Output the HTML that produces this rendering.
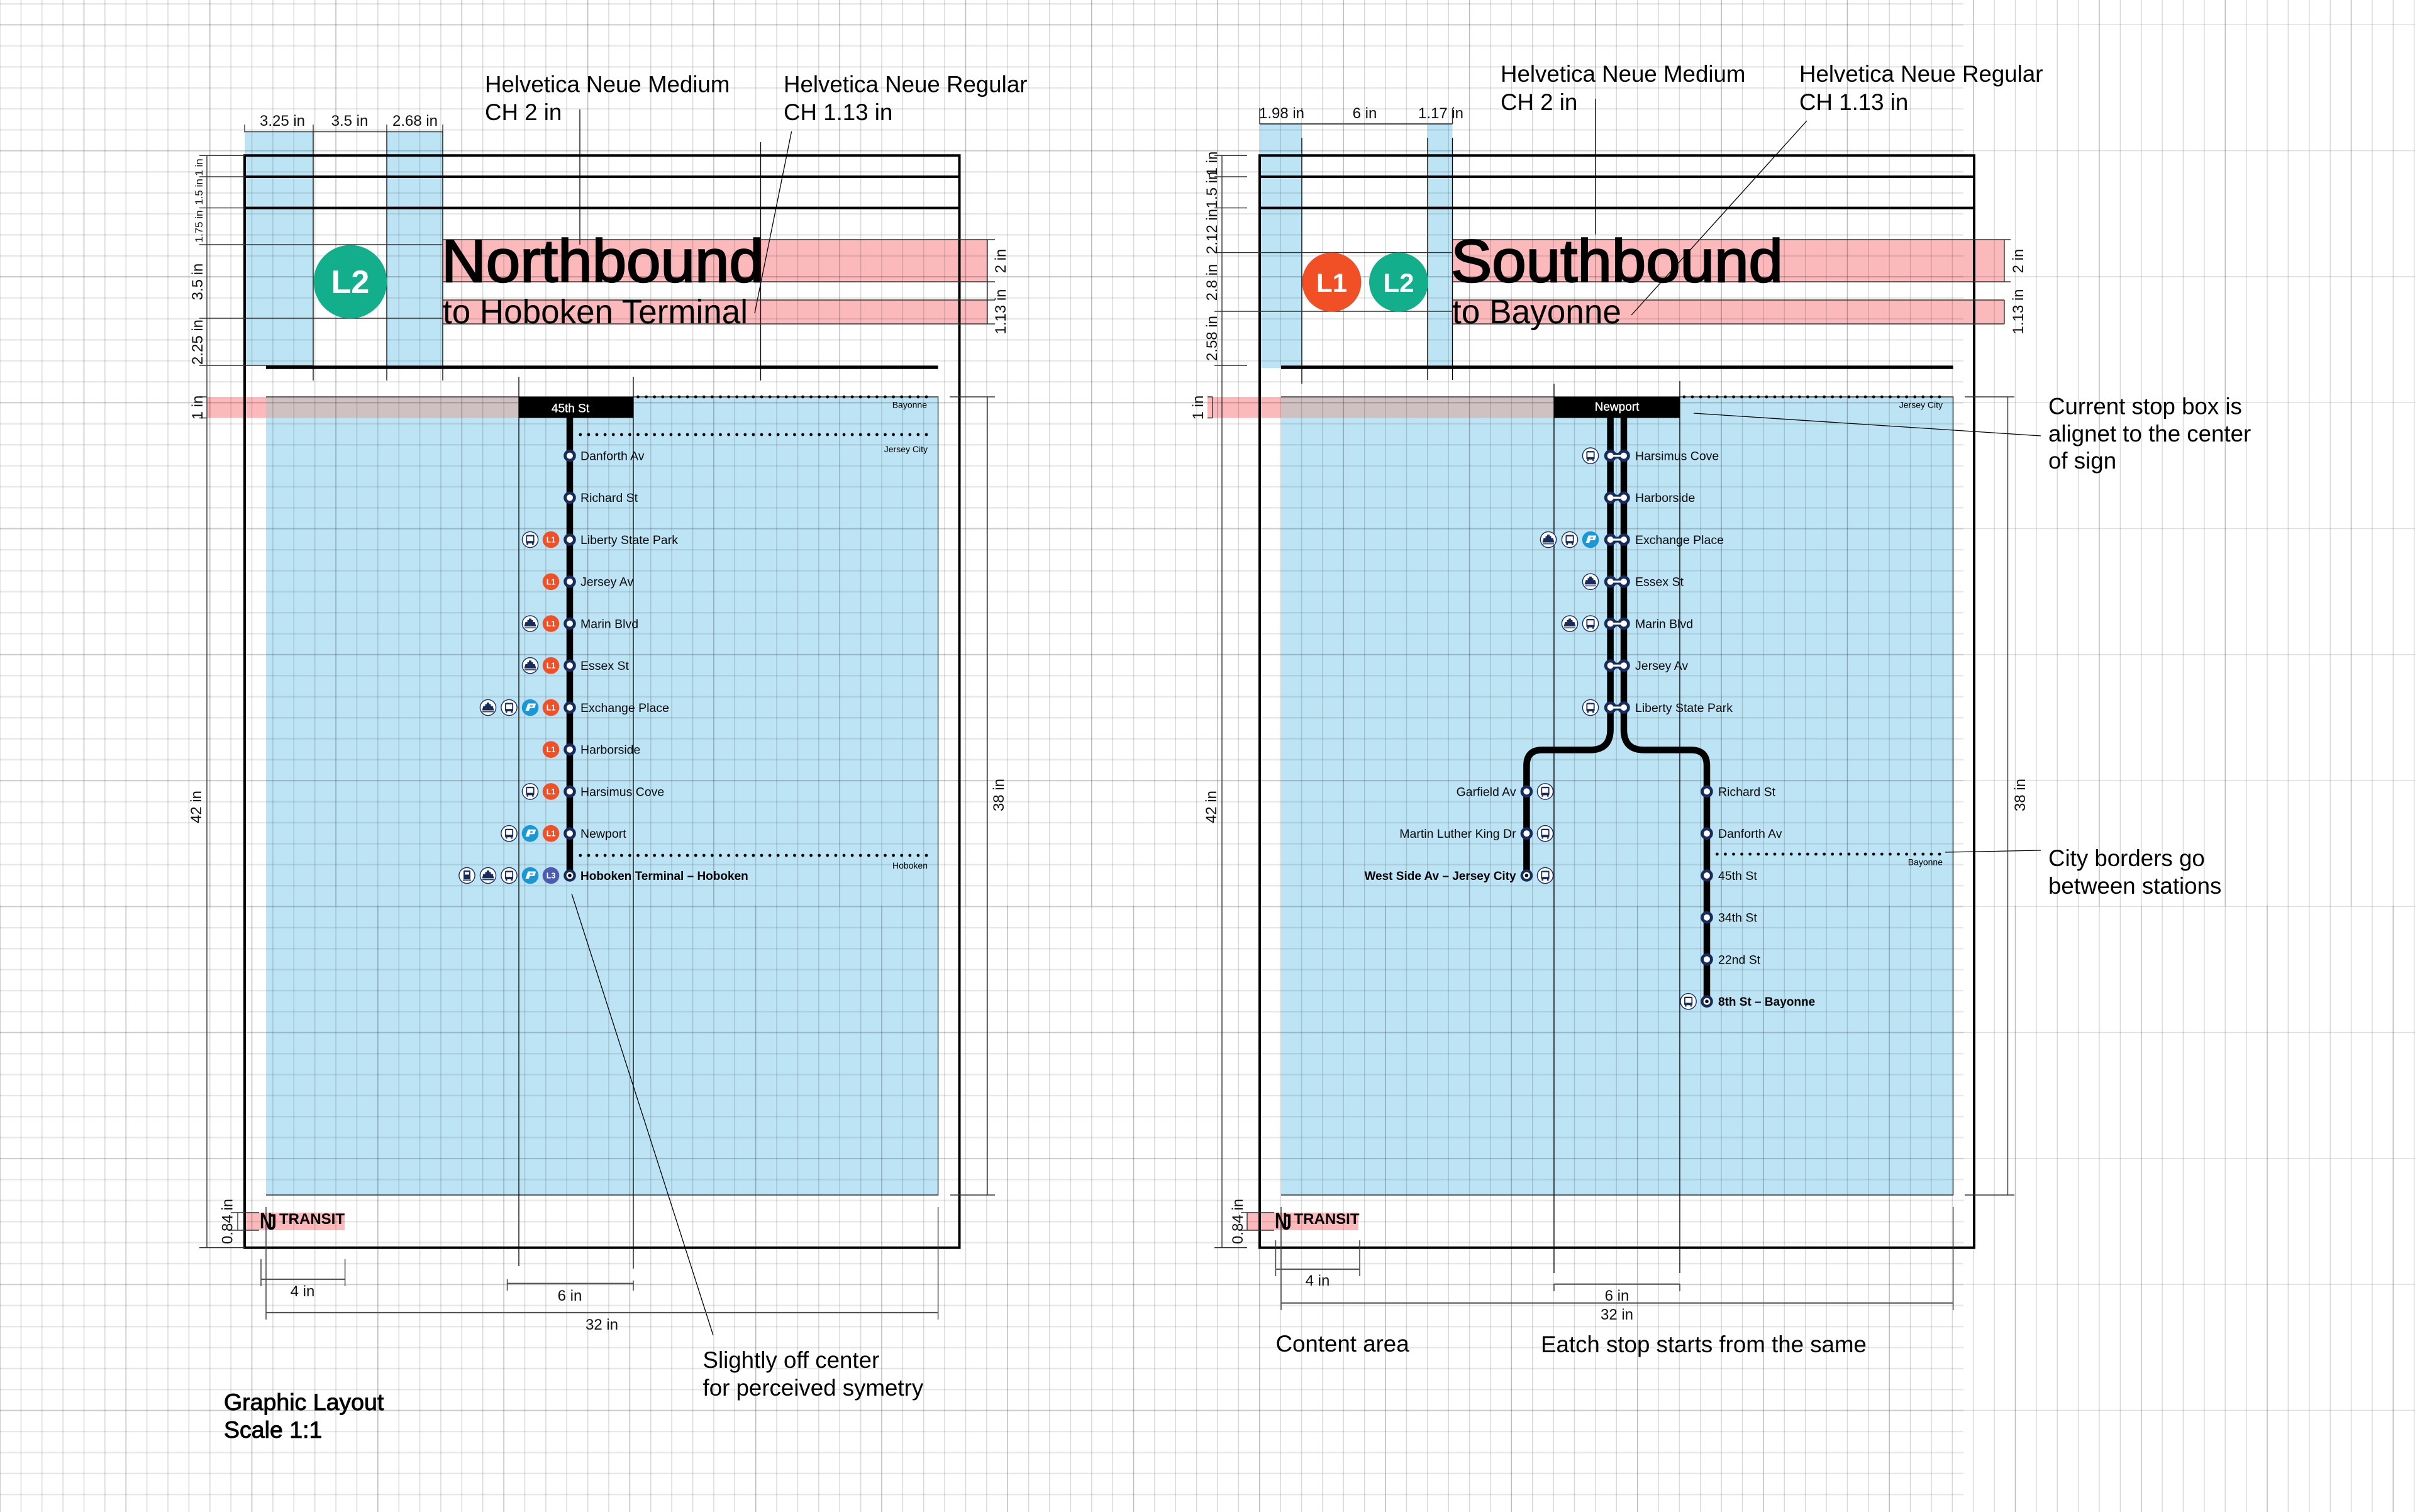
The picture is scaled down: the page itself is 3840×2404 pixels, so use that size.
<!DOCTYPE html>
<html><head><meta charset="utf-8"><title>Graphic Layout</title>
<style>
html,body{margin:0;padding:0;background:#fff}
svg{display:block}
text{font-family:"Liberation Sans",sans-serif;fill:#000}
.d{font-size:24px;fill:#111}
.ds{font-size:17px;fill:#111}
.h{font-size:36.7px}
.m{font-size:37.5px;stroke:#000;stroke-width:.9}
.s{font-size:19.5px;fill:#0b0b0b}
.b{font-size:19px;font-weight:bold}
.c{font-size:14px;text-anchor:end}
.ic{font-size:12.5px;font-weight:bold;fill:#fff;text-anchor:middle;stroke:none}
.l{stroke:#000;stroke-width:1.3;fill:none}
.t{stroke:#333;stroke-width:1.4;fill:none}
.bar{stroke:#555;stroke-width:2.2;fill:none}
.f{stroke:#000;stroke-width:4;fill:none}
.dot{stroke:#000;stroke-width:4.8;stroke-linecap:round;stroke-dasharray:0 13.1;fill:none}
.r{stroke:#000;stroke-width:10.5;fill:none}
.mid{text-anchor:middle}
</style></head><body>
<svg xmlns="http://www.w3.org/2000/svg" width="3840" height="2404" viewBox="0 0 3840 2404">
<defs>
<g id="stop"><circle r="7.4" fill="#fff" stroke="#182c5c" stroke-width="4.8"/></g>
<g id="term"><circle r="9.8" fill="#182c5c"/><circle r="5.4" fill="#fff"/><circle r="2.8" fill="#000"/></g>
<g id="dbl"><rect x="0" y="-4.6" width="21.4" height="9.2" fill="#182c5c"/><circle cx="0" r="7.4" fill="#fff" stroke="#182c5c" stroke-width="4.8"/><circle cx="21.4" r="7.4" fill="#fff" stroke="#182c5c" stroke-width="4.8"/><rect x="0" y="-1.6" width="21.4" height="3.2" fill="#fff"/></g>
<g id="bus"><circle r="12.6" fill="#fff" stroke="#182c5c" stroke-width="1.4"/><rect x="-6.6" y="-7.5" width="13.2" height="13.5" rx="2" fill="#182c5c"/><rect x="-4.8" y="-5.2" width="9.6" height="7.4" fill="#fff"/><rect x="-5.6" y="6" width="2.6" height="2.2" fill="#182c5c"/><rect x="3" y="6" width="2.6" height="2.2" fill="#182c5c"/></g>
<g id="ferry"><circle r="12.6" fill="#fff" stroke="#182c5c" stroke-width="1.4"/><path d="M-2-8h4v2.5h2.5v3H7.5L9.5 4.500-9.500 4.500-7.500-2.500H-4.500v-3H-2z" fill="#182c5c"/><rect x="-9" y="6" width="18" height="1.400" fill="#182c5c"/></g>
<g id="train"><circle r="12.6" fill="#fff" stroke="#182c5c" stroke-width="1.4"/><rect x="-5.500" y="-8" width="11" height="14" rx="1.500" fill="#182c5c"/><rect x="-3.500" y="-5.500" width="7" height="4" fill="#fff"/><rect x="-6.500" y="6.500" width="13" height="1.600" fill="#182c5c"/></g>
<g id="p"><circle r="13.300" fill="#1a98d5"/><path d="M-3.500-6.500H8Q9.500-6.500 8.500-4L7.500-.5Q7 1 5 1H-.5L-2 5H-7.500Z" fill="#fff"/><path d="M0-3.500H4.500L4 -1.500H-.6Z" fill="#1a98d5"/></g>
</defs>

<rect width="3840" height="2404" fill="#fff"/>

<!-- blue fills -->
<g fill="#bde4f5">
<rect x="389" y="209.500" width="109" height="371.500"/>
<rect x="615" y="209.500" width="89" height="371.500"/>
<rect x="423" y="631" width="1068.600" height="1269"/>
<rect x="2003" y="198" width="67" height="387"/>
<rect x="2270" y="198" width="39.500" height="383"/>
<rect x="2037" y="631" width="1068.600" height="1269"/>
</g>
<!-- pink fills -->
<g fill="#fbb9bc">
<rect x="704" y="381" width="866" height="67"/>
<rect x="704" y="477" width="866" height="38"/>
<rect x="329" y="631" width="94" height="33.500"/>
<rect x="390" y="1928" width="158" height="28"/>
<rect x="2309.500" y="381" width="877.500" height="67"/>
<rect x="2309.500" y="477" width="877.500" height="38"/>
<rect x="1920" y="631" width="117" height="33.500"/>
<rect x="1983" y="1928" width="177" height="28"/>
</g>
<g fill="#cfc0c2">
<rect x="423" y="631" width="402" height="33.500"/>
<rect x="2037" y="631" width="434" height="33.500"/>
</g>

<!-- grid -->
<line x1="0" y1="1202" x2="3840" y2="1202" stroke="#000" stroke-opacity=".15" stroke-width="2404" stroke-dasharray="1.500 31.880" stroke-dashoffset=".75"/>
<line x1="1202" y1="5" x2="1202" y2="2404" stroke="#000" stroke-opacity=".09" stroke-width="3840" stroke-dasharray="2.400 30.980"/>
<line x1="132.750" y1="720" x2="3840" y2="720" stroke="#000" stroke-opacity=".13" stroke-width="1440" stroke-dasharray="1.500 198.780"/>
<line x1="0" y1="1922" x2="3840" y2="1922" stroke="#000" stroke-opacity=".13" stroke-width="964" stroke-dasharray="1.500 198.780" stroke-dashoffset=".75"/>
<line x1="1920" y1="38.500" x2="1920" y2="2404" stroke="#000" stroke-opacity=".12" stroke-width="3840" stroke-dasharray="1.600 198.680"/>

<!-- LEFT PANEL -->
<g>
<path class="f" d="M389 247.300H1525.500V1983.700H389Z"/>
<path class="f" d="M389 281H1525.500M389 330.600H1525.500"/>
<path d="M423 584H1491.600" stroke="#000" stroke-width="5.500"/>
<path class="t" d="M423 631H1491.600V1900H423"/>
<path class="t" d="M389 198V209.500H704V198M498 198V209.500M615 198V209.500"/>
<path class="l" d="M498 209.500V605M615 209.500V605M704 209.500V605M1209.500 226V605M825 599V2013M1007 599V2017M922 174V389M1258.600 209L1200 498M909 1421L1134 2123"/>
<path class="t" d="M317 247.300H389M317 281H389M317 330.600H389M317 389H704M317 506H704M317 581H498M329 247.300V1983.700M317 631H329M317 664.500H329M704 381H1582M704 448H1582M704 477H1582M704 515H1582M1570 381V515M1510 631H1582M1511 1900H1582M1570 631V1900M317 1983.700H389"/>
<path class="t" d="M367 1928H412M367 1956H412M378 1928V1956"/>
<path class="t" d="M423 1919V2098M1491.600 1919V2098M415 2002V2045M548.600 2002V2045M806.500 2034V2052M1007 2036V2052"/>
<path class="bar" d="M423 2087H1491.600M415 2034H548.600M806.500 2040.700H1007"/>

<text class="d mid" x="449" y="200">3.25 in</text><text class="d mid" x="556" y="200">3.5 in</text><text class="d mid" x="660" y="200">2.68 in</text>
<text class="h" x="771" y="146.500">Helvetica Neue Medium</text><text class="h" x="771" y="191">CH 2 in</text>
<text class="h" x="1246" y="146.500">Helvetica Neue Regular</text><text class="h" x="1246" y="191">CH 1.13 in</text>
<circle cx="557" cy="448" r="58.400" fill="#13ae8b"/>
<text x="557" y="466" class="mid" font-size="52" font-weight="bold" style="fill:#fff">L2</text>
<text x="702" y="448" font-size="96" textLength="512" lengthAdjust="spacingAndGlyphs" stroke="#000" stroke-width="2.400">Northbound</text>
<text x="704" y="514" font-size="54" textLength="485" lengthAdjust="spacingAndGlyphs">to Hoboken Terminal</text>

<text class="ds mid" transform="translate(322,266) rotate(-90)">1 in</text>
<text class="ds mid" transform="translate(322,305) rotate(-90)">1.5 in</text>
<text class="ds mid" transform="translate(322,360) rotate(-90)">1.75 in</text>
<text class="d mid" transform="translate(322,448) rotate(-90)">3.5 in</text>
<text class="d mid" transform="translate(322,544) rotate(-90)">2.25 in</text>
<text class="d mid" transform="translate(322,648) rotate(-90)">1 in</text>
<text class="d mid" transform="translate(320,1283) rotate(-90)">42 in</text>
<text class="d mid" transform="translate(369.500,1942) rotate(-90)">0.84 in</text>
<text class="d mid" transform="translate(1599,415) rotate(-90)">2 in</text>
<text class="d mid" transform="translate(1599,495.500) rotate(-90)">1.13 in</text>
<text class="d mid" transform="translate(1596,1264) rotate(-90)">38 in</text>

<rect x="825" y="631" width="182" height="33.500" fill="#000"/>
<text x="907" y="655.500" class="mid" font-size="19" style="fill:#fff" stroke="#fff" stroke-width=".3">45th St</text>
<path class="dot" d="M1014.500 631H1474M922.800 691H1474M922.800 1360H1474"/>
<text class="c" x="1474" y="648.500">Bayonne</text>
<text class="c" x="1475" y="719">Jersey City</text>
<text class="c" x="1475" y="1381">Hoboken</text>

<path class="r" d="M906 664V1392"/>
<use href="#stop" x="906" y="724.600"/><use href="#stop" x="906" y="791.300"/><use href="#stop" x="906" y="858"/><use href="#stop" x="906" y="924.800"/><use href="#stop" x="906" y="991.500"/><use href="#stop" x="906" y="1058.200"/><use href="#stop" x="906" y="1125"/><use href="#stop" x="906" y="1191.700"/><use href="#stop" x="906" y="1258.400"/><use href="#stop" x="906" y="1325.200"/><use href="#term" x="906" y="1392"/>
<text class="s" x="923" y="731.500">Danforth Av</text>
<text class="s" x="923" y="798.200">Richard St</text>
<text class="s" x="923" y="864.900">Liberty State Park</text>
<text class="s" x="923" y="931.700">Jersey Av</text>
<text class="s" x="923" y="998.400">Marin Blvd</text>
<text class="s" x="923" y="1065.100">Essex St</text>
<text class="s" x="923" y="1131.900">Exchange Place</text>
<text class="s" x="923" y="1198.600">Harborside</text>
<text class="s" x="923" y="1265.300">Harsimus Cove</text>
<text class="s" x="923" y="1332.100">Newport</text>
<text class="b" x="923" y="1399">Hoboken Terminal – Hoboken</text>

<use href="#bus" x="843" y="858"/><use href="#ferry" x="843" y="991.500"/><use href="#ferry" x="843" y="1058.200"/><use href="#ferry" x="776" y="1125"/><use href="#bus" x="809.500" y="1125"/><use href="#p" x="843" y="1125"/><use href="#bus" x="843" y="1258.400"/><use href="#bus" x="809.500" y="1325.200"/><use href="#p" x="843" y="1325.200"/><use href="#train" x="742.500" y="1392"/><use href="#ferry" x="776" y="1392"/><use href="#bus" x="809.500" y="1392"/><use href="#p" x="843" y="1392"/>
<g>
<circle cx="876" cy="858" r="13.300" fill="#f15027"/><text class="ic" x="876" y="862.500">L1</text>
<circle cx="876" cy="924.800" r="13.300" fill="#f15027"/><text class="ic" x="876" y="929.300">L1</text>
<circle cx="876" cy="991.500" r="13.300" fill="#f15027"/><text class="ic" x="876" y="996">L1</text>
<circle cx="876" cy="1058.200" r="13.300" fill="#f15027"/><text class="ic" x="876" y="1062.700">L1</text>
<circle cx="876" cy="1125" r="13.300" fill="#f15027"/><text class="ic" x="876" y="1129.500">L1</text>
<circle cx="876" cy="1191.700" r="13.300" fill="#f15027"/><text class="ic" x="876" y="1196.200">L1</text>
<circle cx="876" cy="1258.400" r="13.300" fill="#f15027"/><text class="ic" x="876" y="1262.900">L1</text>
<circle cx="876" cy="1325.200" r="13.300" fill="#f15027"/><text class="ic" x="876" y="1329.700">L1</text>
<circle cx="876" cy="1392" r="13.300" fill="#4a5bb0"/><text class="ic" x="876" y="1396.500">L3</text>
</g>

<text x="413" y="1953" font-size="35" font-weight="bold" textLength="20" lengthAdjust="spacingAndGlyphs">N</text>
<text x="424" y="1955" font-size="35" font-weight="bold" textLength="16" lengthAdjust="spacingAndGlyphs">J</text>
<text x="444" y="1946" font-size="24" font-weight="bold" textLength="104" lengthAdjust="spacingAndGlyphs">TRANSIT</text>

<text class="d mid" x="481" y="2061">4 in</text>
<text class="d mid" x="906" y="2068">6 in</text>
<text class="d mid" x="957" y="2114">32 in</text>
<text class="h" x="1117.500" y="2175">Slightly off center</text>
<text class="h" x="1117.500" y="2219">for perceived symetry</text>
<text class="m" x="356" y="2242">Graphic Layout</text>
<text class="m" x="356" y="2286">Scale 1:1</text>
</g>

<!-- RIGHT PANEL -->
<g>
<path class="f" d="M2003 247.300H3139V1983.700H2003Z"/>
<path class="f" d="M2003 281H3139M2003 330.600H3139"/>
<path d="M2037 584H3105.600" stroke="#000" stroke-width="5.500"/>
<path class="t" d="M2037 631H3105.600V1900H2037"/>
<path class="bar" d="M2003 197H2309.500"/>
<path class="t" d="M2003 172V197M2309.500 172V197M2070 172V178"/>
<path class="l" d="M2070 219V610M2270 219V604M2309.500 219V604M2471 610V2024M2671 606V2024M2537 157V372.600M2873 192L2594 501M2693 657L3245 693M3093 1355L3245 1352"/>
<path class="t" d="M1931 247.300H1983M1931 281H1983M1931 330.600H1983M1931 401.600H2309.500M1931 495H2309.500M1931 581H1983M1943 247.300V1983.700M2309.500 381H3197M2309.500 448H3197M2309.500 477H3175M2309.500 515H3175M3187 381V448M3187 477V515M3175 477H3187M3175 515H3187M3124 631H3203M3124 1900H3203M3192.500 631V1900M1920 664.500H1928M1920 631H1928M1928 631V664.500M1931 1983.700H1983"/>
<path class="t" d="M1973 1928H2026M1973 1956H2026M1983 1928V1956"/>
<path class="t" d="M2037 1919V2083M3105.600 1919V2083M2028.500 1972V2029M2162 1972V2029M2471 2041V2053M2671 2041V2053"/>
<path class="bar" d="M2037 2071.700H3105.600M2028.500 2018H2162M2471 2041.700H2671"/>

<text class="d mid" x="2038" y="188">1.98 in</text><text class="d mid" x="2170" y="188">6 in</text><text class="d mid" x="2291" y="188">1.17 in</text>
<text class="h" x="2386" y="130">Helvetica Neue Medium</text><text class="h" x="2386" y="175">CH 2 in</text>
<text class="h" x="2861" y="130">Helvetica Neue Regular</text><text class="h" x="2861" y="175">CH 1.13 in</text>
<circle cx="2117.500" cy="448.600" r="47" fill="#f15027"/>
<text x="2117.500" y="464" class="mid" font-size="42" font-weight="bold" style="fill:#fff">L1</text>
<circle cx="2224" cy="448.600" r="47" fill="#13ae8b"/>
<text x="2224" y="464" class="mid" font-size="42" font-weight="bold" style="fill:#fff">L2</text>
<text x="2307" y="448" font-size="96" textLength="528" lengthAdjust="spacingAndGlyphs" stroke="#000" stroke-width="2.400">Southbound</text>
<text x="2309" y="514" font-size="54" textLength="269" lengthAdjust="spacingAndGlyphs">to Bayonne</text>

<text class="d mid" transform="translate(1935,260) rotate(-90)">1 in</text>
<text class="d mid" transform="translate(1935,302) rotate(-90)">1.5 in</text>
<text class="d mid" transform="translate(1935,368) rotate(-90)">2.12 in</text>
<text class="d mid" transform="translate(1935,449) rotate(-90)">2.8 in</text>
<text class="d mid" transform="translate(1935,538) rotate(-90)">2.58 in</text>
<text class="d mid" transform="translate(1913,648) rotate(-90)">1 in</text>
<text class="d mid" transform="translate(1934,1283) rotate(-90)">42 in</text>
<text class="d mid" transform="translate(1976,1942) rotate(-90)">0.84 in</text>
<text class="d mid" transform="translate(3217,415) rotate(-90)">2 in</text>
<text class="d mid" transform="translate(3217,495.500) rotate(-90)">1.13 in</text>
<text class="d mid" transform="translate(3220,1264) rotate(-90)">38 in</text>

<rect x="2471" y="631" width="200" height="33.500" fill="#000"/>
<text x="2571" y="653" class="mid" font-size="19" style="fill:#fff" stroke="#fff" stroke-width=".3">Newport</text>
<path class="dot" d="M2677.900 631H3085M2730.300 1358H3085"/>
<text class="c" x="3089" y="648.500">Jersey City</text>
<text class="c" x="3089" y="1375.500">Bayonne</text>

<path class="r" d="M2560.600 664V1160Q2560.600 1192.400 2528 1192.400H2452Q2427.400 1192.400 2427.400 1217V1392"/>
<path class="r" d="M2582 664V1160Q2582 1192.400 2614 1192.400H2689Q2714 1192.400 2714 1217V1592"/>
<use href="#dbl" x="2560.600" y="724.600"/><use href="#dbl" x="2560.600" y="791.300"/><use href="#dbl" x="2560.600" y="858"/><use href="#dbl" x="2560.600" y="924.800"/><use href="#dbl" x="2560.600" y="991.500"/><use href="#dbl" x="2560.600" y="1058.200"/><use href="#dbl" x="2560.600" y="1125"/>
<use href="#stop" x="2427.400" y="1258.400"/><use href="#stop" x="2427.400" y="1325.200"/><use href="#term" x="2427.400" y="1392"/>
<use href="#stop" x="2714" y="1258.400"/><use href="#stop" x="2714" y="1325.200"/><use href="#stop" x="2714" y="1392"/><use href="#stop" x="2714" y="1458.700"/><use href="#stop" x="2714" y="1525.400"/><use href="#term" x="2714" y="1592.200"/>

<text class="s" x="2600" y="731.500">Harsimus Cove</text>
<text class="s" x="2600" y="798.200">Harborside</text>
<text class="s" x="2600" y="864.900">Exchange Place</text>
<text class="s" x="2600" y="931.700">Essex St</text>
<text class="s" x="2600" y="998.400">Marin Blvd</text>
<text class="s" x="2600" y="1065.100">Jersey Av</text>
<text class="s" x="2600" y="1131.900">Liberty State Park</text>
<text class="s" x="2732" y="1265.300">Richard St</text>
<text class="s" x="2732" y="1332.100">Danforth Av</text>
<text class="s" x="2732" y="1398.900">45th St</text>
<text class="s" x="2732" y="1465.600">34th St</text>
<text class="s" x="2732" y="1532.300">22nd St</text>
<text class="b" x="2732" y="1599">8th St – Bayonne</text>
<text class="s" x="2410.600" y="1265.300" text-anchor="end">Garfield Av</text>
<text class="s" x="2410.600" y="1332.100" text-anchor="end">Martin Luther King Dr</text>
<text class="b" x="2410.600" y="1399" text-anchor="end">West Side Av – Jersey City</text>

<use href="#bus" x="2529" y="724.600"/><use href="#ferry" x="2462" y="858"/><use href="#bus" x="2496" y="858"/><use href="#p" x="2529" y="858"/><use href="#ferry" x="2529" y="924.800"/><use href="#ferry" x="2496" y="991.500"/><use href="#bus" x="2529" y="991.500"/><use href="#bus" x="2529" y="1125"/>
<use href="#bus" x="2457" y="1258.400"/><use href="#bus" x="2457" y="1325.200"/><use href="#bus" x="2457" y="1392"/><use href="#bus" x="2684.600" y="1592.200"/>

<text x="2027" y="1953" font-size="35" font-weight="bold" textLength="20" lengthAdjust="spacingAndGlyphs">N</text>
<text x="2038" y="1955" font-size="35" font-weight="bold" textLength="16" lengthAdjust="spacingAndGlyphs">J</text>
<text x="2057.500" y="1946" font-size="24" font-weight="bold" textLength="104" lengthAdjust="spacingAndGlyphs">TRANSIT</text>

<text class="d mid" x="2095" y="2044">4 in</text>
<text class="d mid" x="2571" y="2068">6 in</text>
<text class="d mid" x="2571" y="2098">32 in</text>
<text class="h" x="2028.500" y="2149">Content area</text>
<text class="h" x="2450" y="2150">Eatch stop starts from the same</text>
<text class="h" x="3257" y="658.500">Current stop box is</text>
<text class="h" x="3257" y="702">alignet to the center</text>
<text class="h" x="3257" y="745">of sign</text>
<text class="h" x="3257" y="1377">City borders go</text>
<text class="h" x="3257" y="1421">between stations</text>
</g>
</svg>
</body></html>
